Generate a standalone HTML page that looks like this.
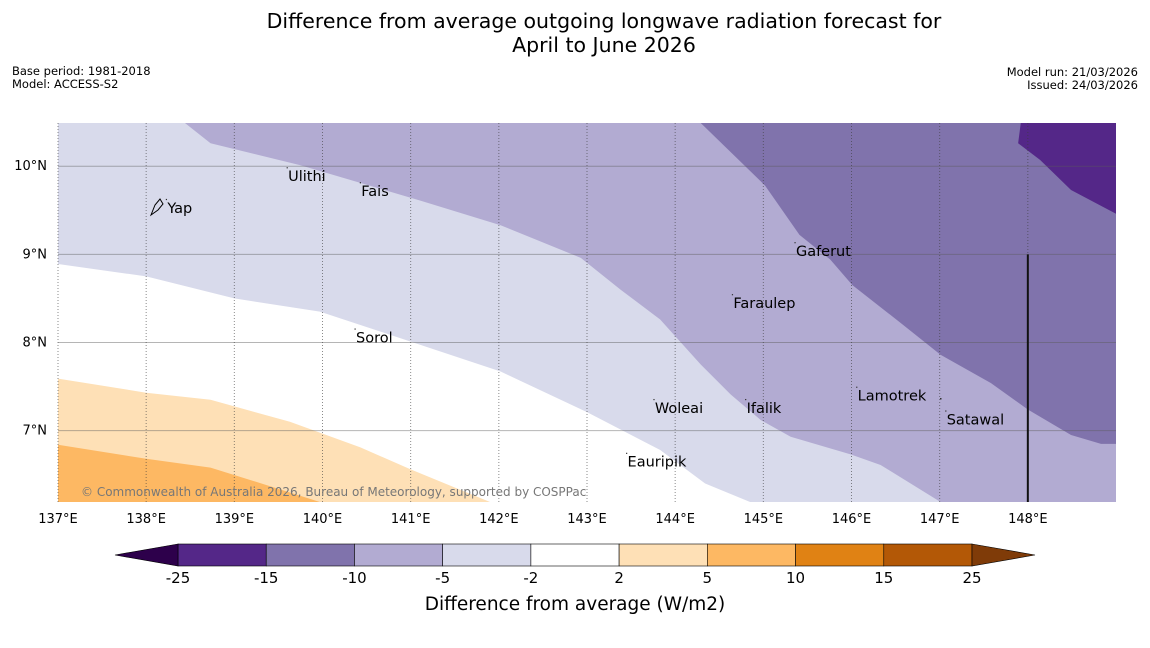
<!DOCTYPE html>
<html><head><meta charset="utf-8"><style>
body{margin:0;background:#fff;font-family:"DejaVu Sans","Liberation Sans",sans-serif;}
svg text{font-family:"DejaVu Sans","Liberation Sans",sans-serif;}
</style></head><body>
<svg id="c" width="1150" height="644" viewBox="0 0 1150 644" xmlns="http://www.w3.org/2000/svg">
<text x="604" y="28" font-size="20.5" text-anchor="middle">Difference from average outgoing longwave radiation forecast for</text>
<text x="604" y="52" font-size="20.5" text-anchor="middle">April to June 2026</text>
<text x="12" y="75" font-size="11.5">Base period: 1981-2018</text>
<text x="12" y="88" font-size="11.5">Model: ACCESS-S2</text>
<text x="1138" y="76" font-size="11.5" text-anchor="end">Model run: 21/03/2026</text>
<text x="1138" y="89" font-size="11.5" text-anchor="end">Issued: 24/03/2026</text>
<g id="map"></g>
<g id="cb"></g>
<text x="575" y="610" font-size="18.5" text-anchor="middle">Difference from average (W/m2)</text>
</svg>
<script>
const lonTicks=[137,138,139,140,141,142,143,144,145,146,147,148];
const latTicks=[10,9,8,7];
const b1Lon=[137,138,139,139.97,141,142.02,143,143.83,144.34,144.85];
const b1Lat=[8.89,8.75,8.5,8.35,8.01,7.67,7.21,6.78,6.4,6.19];
const b2Lon=[138.44,138.73,139.75,141.11,142.02,142.93,143.38,143.83,144.29,144.63,144.97,145.31,145.99,146.33,147.01];
const b2Lat=[10.49,10.26,10.01,9.61,9.33,8.96,8.6,8.26,7.75,7.41,7.12,6.93,6.73,6.61,6.19];
const b3Lon=[144.29,145.02,145.41,145.76,146.01,146.56,147.01,147.58,148,148.49,148.83,149];
const b3Lat=[10.49,9.78,9.22,8.94,8.65,8.22,7.86,7.54,7.24,6.95,6.85,6.85];
const b4Lon=[147.92,147.89,148.14,148.49,149];
const b4Lat=[10.49,10.26,10.07,9.73,9.46];
const b5Lon=[137,138,138.73,139.63,140.43,141,141.9];
const b5Lat=[7.59,7.43,7.35,7.1,6.81,6.56,6.19];
const b6Lon=[137,138,138.73,139.18,139.97];
const b6Lat=[6.84,6.68,6.58,6.44,6.19];
const levels=[-25,-15,-10,-5,-2,2,5,10,15,25];
const levelColors=["#542788","#8073ac","#b2abd2","#d8daeb","#ffffff","#fee0b6","#fdb863","#e08214","#b35806"];
const islandNames=["Yap","Ulithi","Fais","Gaferut","Faraulep","Sorol","Lamotrek","Woleai","Ifalik","Satawal","Eauripik"];
const islandLon=[138.24,139.61,140.44,145.37,144.66,140.38,146.07,143.77,144.81,147.08,143.46];
const islandLat=[9.47,9.83,9.66,8.98,8.39,8.0,7.34,7.20,7.20,7.07,6.59];

const L0=137,L1=149,A0=6.19,A1=10.49,X0=58,X1=1116,Y0=502,Y1=123;
const xS=v=>X0+(v-L0)/(L1-L0)*(X1-X0);
const yS=v=>Y0-(v-A0)/(A1-A0)*(Y0-Y1);
const NS="http://www.w3.org/2000/svg";
const map=document.getElementById('map');
function mk(t,a,p){const e=document.createElementNS(NS,t);for(const k in a)e.setAttribute(k,a[k]);(p||map).appendChild(e);return e;}
function poly(lons,lats,extra,fill,name){
  let pts=lons.map((l,i)=>xS(l)+','+yS(lats[i]));
  extra.forEach(p=>pts.push(xS(p[0])+','+yS(p[1])));
  const e=mk('polygon',{points:pts.join(' '),fill:fill});
  
  
}
const bg=mk('rect',{x:X0,y:Y1,width:X1-X0,height:Y0-Y1,fill:'#fff'});


poly(b1Lon,b1Lat,[[L1,A0],[L1,A1],[L0,A1]],levelColors[3],'region-minus5-minus2');
poly(b2Lon,b2Lat,[[L1,A0],[L1,A1]],levelColors[2],'region-minus10-minus5');
poly(b3Lon,b3Lat,[[L1,A1]],levelColors[1],'region-minus15-minus10');
poly(b4Lon,b4Lat,[[L1,A1]],levelColors[0],'region-minus25-minus15');
poly(b5Lon,b5Lat,[[L0,A0]],levelColors[5],'region-2-5');
poly(b6Lon,b6Lat,[[L0,A0]],levelColors[6],'region-5-10');
latTicks.forEach(v=>{
  const l=mk('line',{x1:X0,x2:X1,y1:yS(v),y2:yS(v),stroke:'rgba(90,90,90,0.45)','stroke-width':1});
  
  
  const t=mk('text',{x:X0-11,y:yS(v)+4,'font-size':13,'text-anchor':'end'});t.textContent=v+'°N';
  
  
});
lonTicks.forEach(v=>{
  const l=mk('line',{x1:xS(v),x2:xS(v),y1:Y1,y2:Y0,stroke:'rgba(60,60,60,0.6)','stroke-width':1,'stroke-dasharray':'1,2'});
  
  
  const t=mk('text',{x:xS(v),y:Y0+21,'font-size':13,'text-anchor':'middle'});t.textContent=v+'°E';
  
  
});
const dl=mk('line',{x1:xS(148),x2:xS(148),y1:yS(9),y2:Y0,stroke:'#111','stroke-width':2});


islandNames.forEach((n,i)=>{
  const x=xS(islandLon[i]),y=yS(islandLat[i]);
  const d=mk('rect',{x:x-1.5,y:y-14,width:1.2,height:1.2,fill:'#333'});
  
  
  const t=mk('text',{x:x,y:y,'font-size':14.5});t.textContent=n;
  
  
});
const ex=mk('rect',{x:940,y:398,width:1.5,height:1.5,fill:'#333'});


const yap=mk('path',{d:'M151,215 L155,205 L160,199 L163,204 L158,210 Z',fill:'none',stroke:'#000','stroke-width':1});


const cp=mk('text',{x:81,y:496,'font-size':12,fill:'#777'});cp.textContent='© Commonwealth of Australia 2026, Bureau of Meteorology, supported by COSPPac';



// colorbar
const cb=document.getElementById('cb');
const CX0=178,CX1=972,CY=544,CH=22;
const cx=i=>CX0+i*(CX1-CX0)/(levels.length-1);
levelColors.forEach((c,i)=>{
  const r=mk('rect',{x:cx(i),y:CY,width:cx(i+1)-cx(i),height:CH,fill:c,stroke:'#000','stroke-width':0.6},cb);
  
  
});
const e1=mk('polygon',{points:`${CX0},${CY} 115,${CY+CH/2} ${CX0},${CY+CH}`,fill:'#2d004b',stroke:'#000','stroke-width':0.6},cb);


const e2=mk('polygon',{points:`${CX1},${CY} 1035,${CY+CH/2} ${CX1},${CY+CH}`,fill:'#7f3b08',stroke:'#000','stroke-width':0.6},cb);


levels.forEach((v,i)=>{
  const t=mk('text',{x:cx(i),y:CY+CH+17,'font-size':15,'text-anchor':'middle'},cb);t.textContent=v;
  
  
});
</script>
</body></html>
